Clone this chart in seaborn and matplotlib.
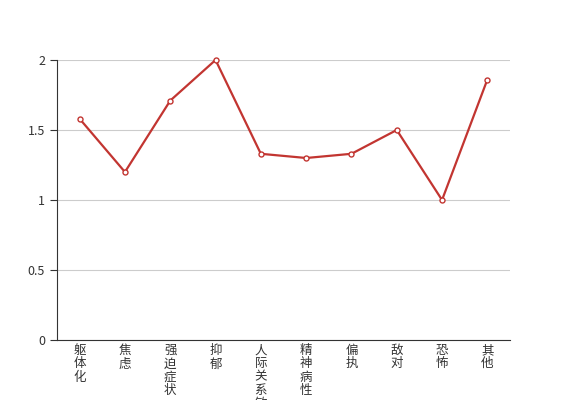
import matplotlib
matplotlib.use("Agg")
import matplotlib.pyplot as plt
import numpy as np
import seaborn as sns
import pandas as pd

# 因子及得分
factors = ['躯体化', '焦虑', '强迫症状', '抑郁', '人际关系敏感', '精神病性', '偏执', '敌对', '恐怖', '其他']
scores = [1.58, 1.2, 1.71, 2.0, 1.33, 1.3, 1.33, 1.5, 1.0, 1.86]
y_ticks = [0, 0.5, 1, 1.5, 2]
y_labels = ['0', '0.5', '1', '1.5', '2']

df = pd.DataFrame({'factor': factors, 'score': scores})

sns.set_style('white')
plt.rcParams['font.family'] = ['Noto Sans CJK SC', 'DejaVu Sans']

fig = plt.figure(figsize=(5.67, 4.0), dpi=100)
ax = fig.add_axes([57 / 567, 0.15, (510 - 57) / 567, 0.70])

pos = np.arange(len(factors))
sns.lineplot(x=pos, y=df['score'], ax=ax, color='#c23531', linewidth=1.6,
             marker='o', markersize=3.6, markerfacecolor='white',
             markeredgecolor='#c23531', markeredgewidth=1.0, zorder=3,
             clip_on=False)

ax.set_xlim(-0.5, len(factors) - 0.5)
ax.set_ylim(0, 2)
ax.set_yticks(y_ticks)
ax.set_yticklabels(y_labels)
ax.yaxis.grid(True, color='#cccccc', linewidth=0.8)
ax.set_axisbelow(True)

ax.set_xticks(pos)
ax.set_xticklabels(['\n'.join(f) for f in factors], va='top', linespacing=1.02)
ax.set_xticks(np.arange(-0.5, len(factors)), minor=True)
ax.tick_params(axis='x', which='major', length=0, pad=3, labelsize=9, colors='#333333')
ax.tick_params(axis='x', which='minor', length=5, width=0.8, color='#333333', direction='out')
ax.tick_params(axis='y', length=5, width=0.8, color='#333333', labelsize=9,
               labelcolor='#333333', direction='out', left=True)

for side in ['top', 'right']:
    ax.spines[side].set_visible(False)
for side in ['left', 'bottom']:
    ax.spines[side].set_color('#333333')
    ax.spines[side].set_linewidth(0.8)

ax.set_xlabel('')
ax.set_ylabel('')

fig.savefig('out.png', dpi=100)
